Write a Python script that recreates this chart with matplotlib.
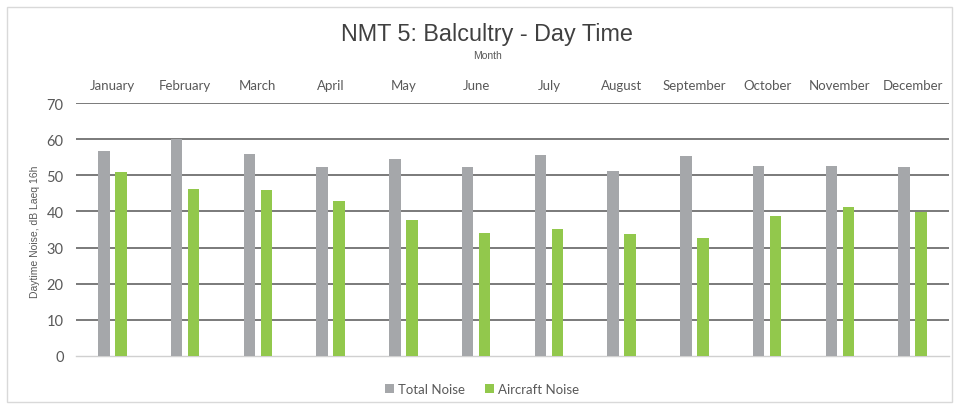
import matplotlib
matplotlib.use("Agg")
import matplotlib.pyplot as plt
import numpy as np
from matplotlib.patches import Rectangle

months = ["January", "February", "March", "April", "May", "June", "July",
          "August", "September", "October", "November", "December"]
total_noise = [56.6, 60.0, 55.9, 52.3, 54.4, 52.3, 55.5, 51.1, 55.2, 52.6, 52.6, 52.3]
aircraft_noise = [51.0, 46.1, 45.8, 42.8, 37.5, 34.0, 35.1, 33.8, 32.6, 38.6, 41.1, 39.9]
yticks = [0, 10, 20, 30, 40, 50, 60, 70]

gray = "#A5A7AA"
green = "#92C84C"
txt = "#595959"

fig = plt.figure(figsize=(9.59, 4.10), dpi=100)
fig.patches.append(Rectangle((7/959, 1-403/410), 945/959, 395/410, transform=fig.transFigure,
                             fill=False, edgecolor="#D9D9D9", linewidth=1.0))
ax = fig.add_axes([76/959, 1-357/410, 873/959, 253/410])

x = np.arange(len(months))
w = 0.155
ax.bar(x - 0.117, total_noise, width=w, color=gray, label="Total Noise", zorder=3)
ax.bar(x + 0.117, aircraft_noise, width=w, color=green, label="Aircraft Noise", zorder=3)

ax.set_xlim(-0.5, len(months) - 0.5)
ax.set_ylim(0, 70)
ax.set_yticks(yticks)
ax.set_yticklabels([str(v) for v in yticks], fontsize=10.5, color=txt, family="Lato")
for v in yticks[1:]:
    ax.axhline(v, color="#7A7A7A", linewidth=1.4, zorder=1)

ax.xaxis.tick_top()
ax.xaxis.set_label_position("top")
ax.set_xticks(x)
ax.set_xticklabels(months, fontsize=9.5, color=txt, family="Lato")
ax.tick_params(axis="x", length=0, pad=9)
ax.tick_params(axis="y", length=0, pad=9)
for s in ["top", "left", "right"]:
    ax.spines[s].set_visible(False)
ax.spines["bottom"].set_color("#D0D0D0")
ax.spines["bottom"].set_linewidth(1.0)

fig.text(35/959, 1-232/410, "Daytime Noise, dB Laeq 16h", rotation=90, ha="center", va="center",
         fontsize=7.5, color=txt, family="Liberation Sans")

fig.text(487/959, 1-35/410, "NMT 5: Balcultry - Day Time", ha="center", va="center",
         fontsize=16.8, color="#404040", family="Liberation Sans")
fig.text(487/959, 1-56/410, "Month", ha="center", va="center", fontsize=7.5,
         color=txt, family="Liberation Sans")

leg = fig.legend(loc="center", bbox_to_anchor=(482/959, 1-390/410), ncol=2, frameon=False,
                 handlelength=0.7, handleheight=0.7, handletextpad=0.3,
                 columnspacing=1.5, prop={"family": "Lato", "size": 9.5})
for t in leg.get_texts():
    t.set_color(txt)

fig.savefig("out.png", dpi=100)
